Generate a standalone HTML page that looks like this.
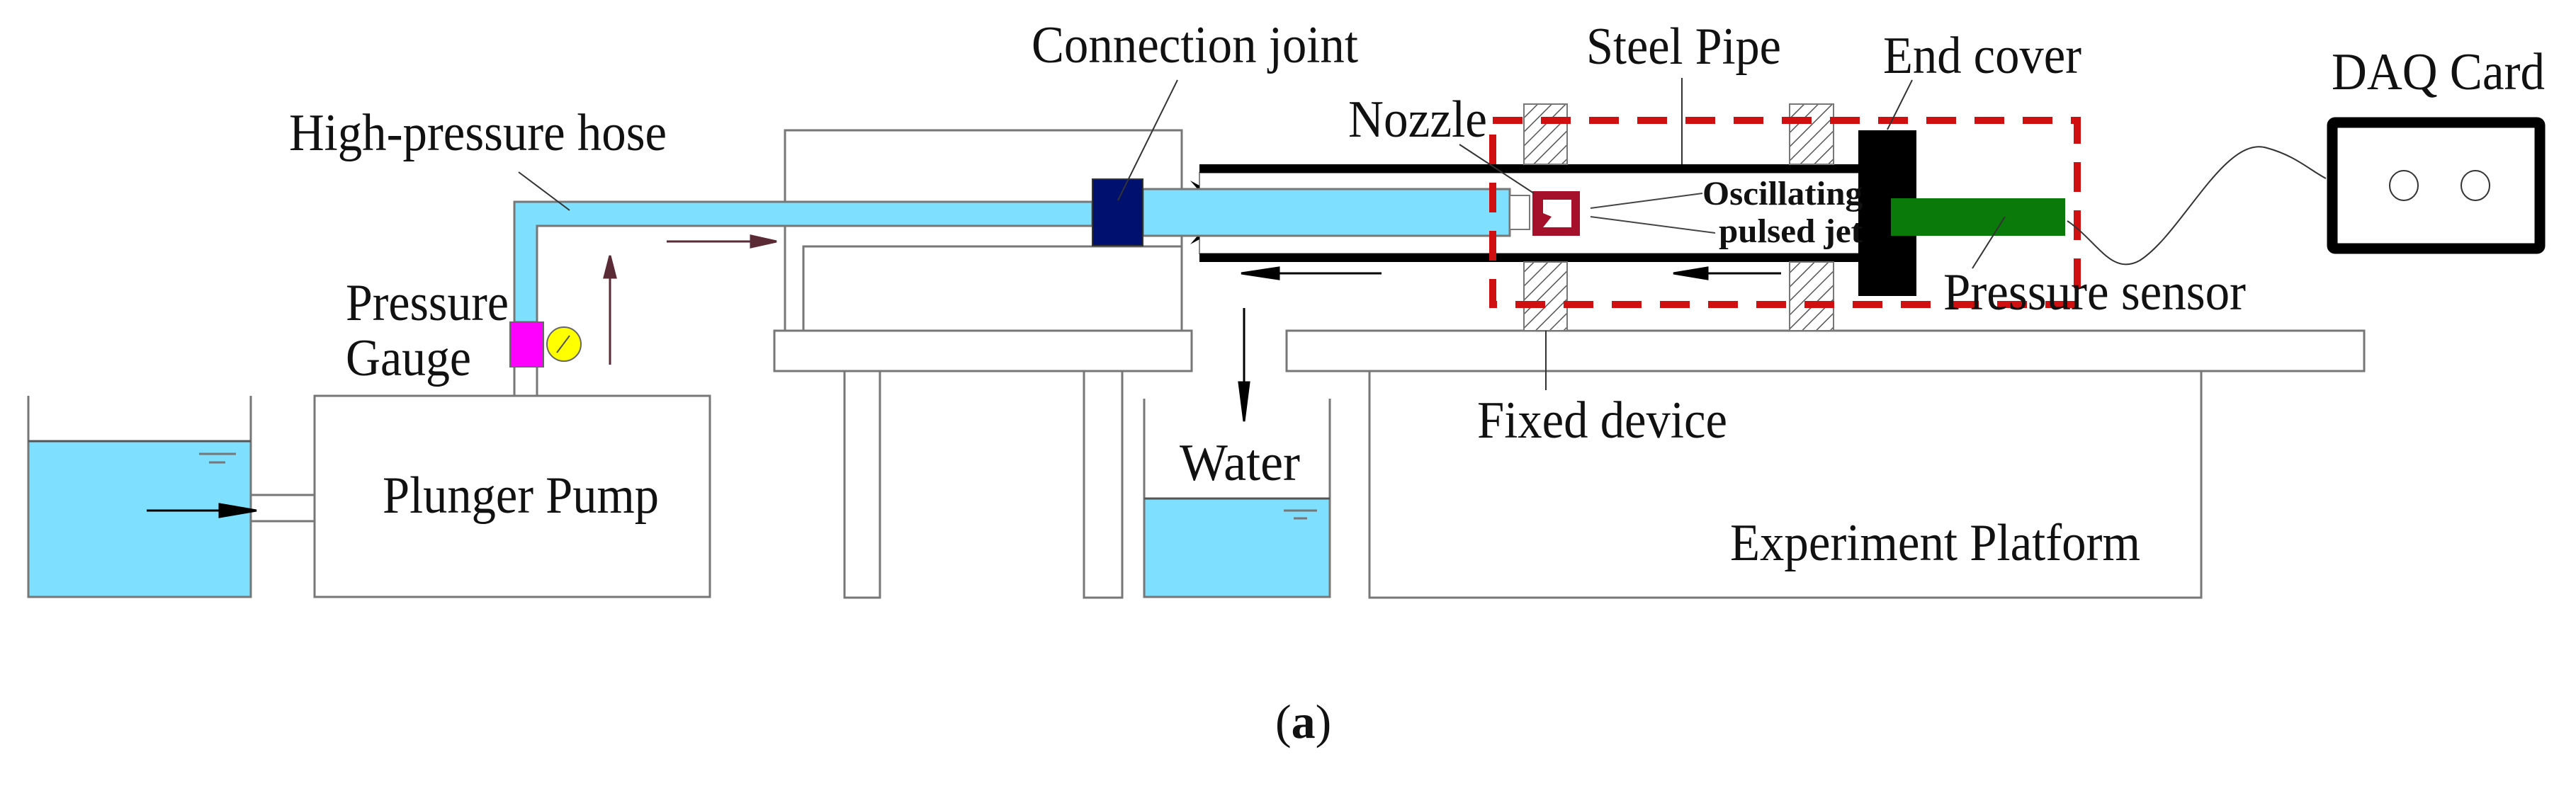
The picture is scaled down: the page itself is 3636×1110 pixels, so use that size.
<!DOCTYPE html>
<html><head><meta charset="utf-8"><style>html,body{margin:0;padding:0;background:#fff}svg{display:block}text{font-family:"Liberation Serif",serif;fill:#111}</style></head>
<body>
<svg width="3636" height="1110" viewBox="0 0 3636 1110" xmlns="http://www.w3.org/2000/svg">
<defs>
<pattern id="hatch" width="14" height="14" patternUnits="userSpaceOnUse" patternTransform="rotate(45)">
<rect width="14" height="14" fill="#fff"/><line x1="0" y1="0" x2="0" y2="14" stroke="#555" stroke-width="3"/></pattern>
</defs>
<g stroke="#777" stroke-width="3" fill="none">
<rect x="40" y="623" width="314" height="220" fill="#7fdfff" stroke="none"/>
<polyline points="40,559 40,843 354,843 354,559"/>
<line x1="40" y1="623" x2="354" y2="623" stroke="#555"/>
<line x1="281" y1="641" x2="333" y2="641"/><line x1="295" y1="653" x2="318" y2="653"/>
<rect x="354" y="699" width="90" height="37" fill="#fff"/>
<rect x="444" y="559" width="558" height="284" fill="#fff"/>
<rect x="726" y="517" width="32" height="42" fill="#fff"/>
<rect x="1108" y="184" width="560" height="283" fill="#fff"/>
<polyline points="1134,467 1134,348 1668,348"/>
<rect x="1093" y="467" width="589" height="57" fill="#fff"/>
<rect x="1192" y="524" width="50" height="320" fill="#fff"/>
<rect x="1530" y="524" width="54" height="320" fill="#fff"/>
<rect x="1615" y="704" width="262" height="139" fill="#7fdfff" stroke="none"/>
<polyline points="1615,563 1615,843 1877,843 1877,563"/>
<line x1="1615" y1="704" x2="1877" y2="704" stroke="#555"/>
<line x1="1812" y1="721" x2="1859" y2="721"/><line x1="1826" y1="732" x2="1845" y2="732"/>
<rect x="1933" y="524" width="1174" height="320" fill="#fff"/>
<rect x="1816" y="467" width="1521" height="57" fill="#fff"/>
</g>
<path d="M726,455 L726,285 L1542,285 L1542,319 L758,319 L758,455 Z" fill="#7fdfff" stroke="#777" stroke-width="3"/>
<rect x="720" y="455" width="47" height="63" fill="#ff00ff" stroke="#666" stroke-width="2"/>
<circle cx="796" cy="486" r="24" fill="#ffff00" stroke="#666" stroke-width="2"/>
<line x1="786" y1="498" x2="804" y2="474" stroke="#555" stroke-width="2"/>
<rect x="1693" y="244" width="976" height="114" fill="#fff" stroke="#888" stroke-width="2"/>
<rect x="1693" y="232" width="930" height="12" fill="#000"/>
<rect x="1693" y="358" width="930" height="12" fill="#000"/>
<path d="M1680,255 L1693,262 L1693,270z M1680,345 L1693,338 L1693,330z" fill="#000"/>
<rect x="1613" y="267" width="518" height="66" fill="#7fdfff" stroke="#777" stroke-width="3"/>
<rect x="2131" y="276" width="28" height="48" fill="#fff" stroke="#777" stroke-width="2"/>
<rect x="1542" y="253" width="71" height="94" fill="#00106e" stroke="#333" stroke-width="2"/>
<rect x="2163" y="270" width="67" height="63" fill="#a5102a"/>
<path d="M2178,282 L2218,282 L2218,321 L2178,321 L2190,306 L2178,301 Z" fill="#fff"/>
<line x1="2245" y1="294" x2="2403" y2="273" stroke="#444" stroke-width="2"/>
<line x1="2245" y1="306" x2="2421" y2="329" stroke="#444" stroke-width="2"/>
<rect x="2151" y="147" width="61" height="85" fill="url(#hatch)" stroke="#777" stroke-width="2"/>
<rect x="2151" y="370" width="61" height="97" fill="url(#hatch)" stroke="#777" stroke-width="2"/>
<rect x="2526" y="147" width="62" height="85" fill="url(#hatch)" stroke="#777" stroke-width="2"/>
<rect x="2526" y="370" width="62" height="97" fill="url(#hatch)" stroke="#777" stroke-width="2"/>
<rect x="2623" y="184" width="82" height="234" fill="#000"/>
<rect x="2669" y="280" width="246" height="53" fill="#0a7a0a"/>
<rect x="2107" y="170" width="825" height="260" fill="none" stroke="#d01010" stroke-width="10" stroke-dasharray="42,26"/>
<path d="M2918,312 C2960,340 2980,390 3020,368 C3080,330 3140,190 3200,209 C3240,220 3260,240 3283,252" fill="none" stroke="#333" stroke-width="2"/>
<rect x="3292" y="173" width="293" height="178" fill="#fff" stroke="#000" stroke-width="15" rx="4"/>
<ellipse cx="3393" cy="262" rx="20" ry="21" fill="none" stroke="#333" stroke-width="2"/>
<ellipse cx="3494" cy="262" rx="20" ry="21" fill="none" stroke="#333" stroke-width="2"/>
<g stroke="#5a2a35" stroke-width="3" fill="#5a2a35">
<line x1="861" y1="515" x2="861" y2="380"/><path d="M853,392 L861,361 L869,392z"/>
<line x1="941" y1="341" x2="1070" y2="341"/><path d="M1060,333 L1096,341 L1060,349z"/>
</g>
<g stroke="#000" stroke-width="3" fill="#000">
<line x1="207" y1="721" x2="330" y2="721"/><path d="M310,712 L362,721 L310,730z"/>
<line x1="1756" y1="435" x2="1756" y2="560"/><path d="M1749,540 L1756,595 L1763,540z"/>
<line x1="1950" y1="386" x2="1790" y2="386"/><path d="M1805,378 L1752,386 L1805,394z"/>
<line x1="2514" y1="386" x2="2390" y2="386"/><path d="M2410,378 L2362,386 L2410,394z"/>
</g>
<g stroke="#333" stroke-width="2">
<line x1="732" y1="243" x2="804" y2="297"/>
<line x1="1662" y1="113" x2="1578" y2="283"/>
<line x1="2374" y1="110" x2="2374" y2="232"/>
<line x1="2699" y1="113" x2="2664" y2="183"/>
<line x1="2060" y1="204" x2="2165" y2="273"/>
<line x1="2830" y1="306" x2="2784" y2="379"/>
<line x1="2182" y1="467" x2="2182" y2="551"/>
</g>
<g font-size="74">
<text x="408" y="212" textLength="533" lengthAdjust="spacingAndGlyphs">High-pressure hose</text>
<text x="488" y="452" textLength="230" lengthAdjust="spacingAndGlyphs">Pressure</text>
<text x="488" y="530" textLength="177" lengthAdjust="spacingAndGlyphs">Gauge</text>
<text x="540" y="724" textLength="390" lengthAdjust="spacingAndGlyphs">Plunger Pump</text>
<text x="1456" y="88" textLength="461" lengthAdjust="spacingAndGlyphs">Connection joint</text>
<text x="1665" y="678" textLength="170" lengthAdjust="spacingAndGlyphs">Water</text>
<text x="2239" y="90" textLength="275" lengthAdjust="spacingAndGlyphs">Steel Pipe</text>
<text x="2658" y="103" textLength="280" lengthAdjust="spacingAndGlyphs">End cover</text>
<text x="1903" y="193" textLength="196" lengthAdjust="spacingAndGlyphs">Nozzle</text>
<text x="3291" y="126" textLength="301" lengthAdjust="spacingAndGlyphs">DAQ Card</text>
<text x="2743" y="437" textLength="427" lengthAdjust="spacingAndGlyphs">Pressure sensor</text>
<text x="2085" y="618" textLength="353" lengthAdjust="spacingAndGlyphs">Fixed device</text>
<text x="2442" y="791" textLength="579" lengthAdjust="spacingAndGlyphs">Experiment Platform</text>
</g>
<g font-size="48" font-weight="bold">
<text x="2403" y="289" textLength="226" lengthAdjust="spacingAndGlyphs">Oscillating</text>
<text x="2426" y="342" textLength="203" lengthAdjust="spacingAndGlyphs">pulsed jet</text>
</g>
<text x="1800" y="1042" font-size="68">(<tspan font-weight="bold">a</tspan>)</text>
</svg>
</body></html>
